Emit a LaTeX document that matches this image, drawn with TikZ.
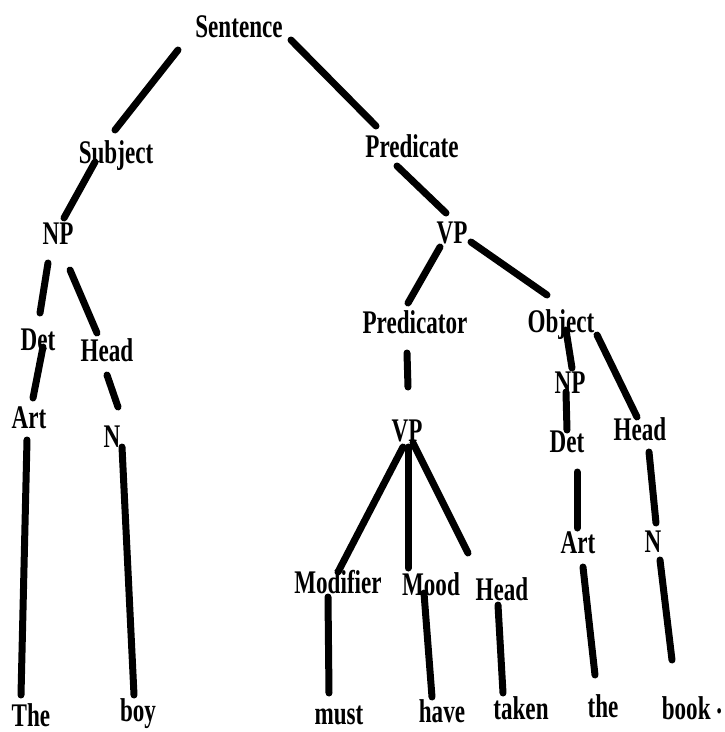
\documentclass[tikz,border=0pt]{standalone}
\usepackage{fontspec}
\newfontfamily\lblfont[FakeStretch=0.7]{Liberation Serif}
\tikzset{
  lbl/.style={font=\lblfont\bfseries\fontsize{33}{33}\selectfont, inner sep=0pt, anchor=base},
  br/.style={line width=7pt, line cap=round, line join=round, black}
}
\begin{document}
\begin{tikzpicture}[x=1pt,y=-1pt]
\useasboundingbox (0,0) rectangle (724,732);
% labels
\node[lbl] (sent)  at (239,37)  {Sentence};
\node[lbl] (subj)  at (116,163) {Subject};
\node[lbl] (pred)  at (412,157) {Predicate};
\node[lbl] (np1)   at (58,244)  {NP};
\node[lbl] (vp1)   at (452,243) {VP};
\node[lbl] (det1)  at (38,350)  {Det};
\node[lbl] (head1) at (107,361) {Head};
\node[lbl] (predr) at (415,333) {Predicator};
\node[lbl] (obj)   at (561,332) {Object};
\node[lbl] (art1)  at (29,428)  {Art};
\node[lbl] (n1)    at (112,447) {N};
\node[lbl] (np2)   at (570,393) {NP};
\node[lbl] (det2)  at (567,452) {Det};
\node[lbl] (head2) at (640,440) {Head};
\node[lbl] (vp2)   at (407,441) {VP};
\node[lbl] (art2)  at (578,553) {Art};
\node[lbl] (n2)    at (653,552) {N};
\node[lbl] (mod)   at (338,593) {Modifier};
\node[lbl] (mood)  at (431,595) {Mood};
\node[lbl] (head3) at (502,600) {Head};
\node[lbl] (wthe)  at (31,726)  {The};
\node[lbl] (wboy)  at (138,721) {boy};
\node[lbl] (wmust) at (339,724) {must};
\node[lbl] (whave) at (442,722) {have};
\node[lbl] (wtake) at (521,719) {taken};
\node[lbl] (wthe2) at (603,717) {the};
\node[lbl] (wbook) at (692,719) {book \raisebox{6pt}{.}};
% connectors
\draw[br] ([shift={(-61,13)}]sent.base) -- ([shift={(-1,-33)}]subj.base);
\draw[br] ([shift={(52,3)}]sent.base) -- ([shift={(-36,-31)}]pred.base);
\draw[br] ([shift={(-21,-1)}]subj.base) -- ([shift={(6,-26)}]np1.base);
\draw[br] ([shift={(-15,9)}]pred.base) -- ([shift={(-6,-30)}]vp1.base);
\draw[br] ([shift={(-10,19)}]np1.base) -- ([shift={(2,-37)}]det1.base);
\draw[br] ([shift={(12,26)}]np1.base) -- ([shift={(-10,-28)}]head1.base);
\draw[br] ([shift={(5,-3)}]det1.base) -- ([shift={(4,-30)}]art1.base);
\draw[br] ([shift={(0,14)}]head1.base) -- ([shift={(6,-40)}]n1.base);
\draw[br] ([shift={(-2,12)}]art1.base) -- ([shift={(-10,-31)}]wthe.base);
\draw[br] ([shift={(10,0)}]n1.base) -- ([shift={(-4,-26)}]wboy.base);
\draw[br] ([shift={(-12,4)}]vp1.base) -- ([shift={(-7,-30)}]predr.base);
\draw[br] ([shift={(19,-1)}]vp1.base) -- ([shift={(-14,-37)}]obj.base);
\draw[br] ([shift={(-8,20)}]predr.base) -- ([shift={(1,-54)}]vp2.base);
\draw[br] ([shift={(5,-2)}]obj.base) -- ([shift={(2,-25)}]np2.base);
\draw[br] ([shift={(36,3)}]obj.base) -- ([shift={(-3,-23)}]head2.base);
\draw[br] ([shift={(-4,-1)}]np2.base) -- ([shift={(0,-22)}]det2.base);
\draw[br] ([shift={(10,20)}]det2.base) -- ([shift={(-1,-25)}]art2.base);
\draw[br] ([shift={(9,12)}]head2.base) -- ([shift={(3,-29)}]n2.base);
\draw[br] ([shift={(-4,6)}]vp2.base) -- ([shift={(0,-21)}]mod.base);
\draw[br] ([shift={(1,6)}]vp2.base) -- ([shift={(-23,-27)}]mood.base);
\draw[br] ([shift={(6,2)}]vp2.base) -- ([shift={(-34,-47)}]head3.base);
\draw[br] ([shift={(-10,4)}]mod.base) -- ([shift={(-10,-31)}]wmust.base);
\draw[br] ([shift={(-7,-2)}]mood.base) -- ([shift={(-10,-25)}]whave.base);
\draw[br] ([shift={(-4,5)}]head3.base) -- ([shift={(-18,-26)}]wtake.base);
\draw[br] ([shift={(5,14)}]art2.base) -- ([shift={(-8,-42)}]wthe2.base);
\draw[br] ([shift={(7,8)}]n2.base) -- ([shift={(-20,-59)}]wbook.base);
\end{tikzpicture}
\end{document}
